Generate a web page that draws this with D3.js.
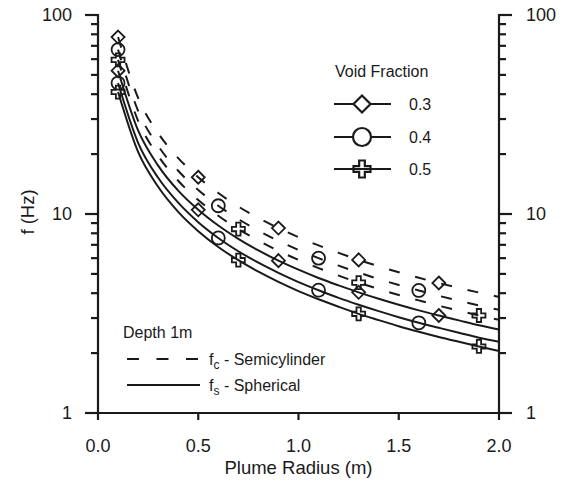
<!DOCTYPE html>
<html><head><meta charset="utf-8">
<script src="https://cdn.jsdelivr.net/npm/d3@7"></script>
<style>
body{margin:0;background:#fff}
text{font-family:"Liberation Sans",Arial,Helvetica,sans-serif;fill:#1a1a1a}
</style>
</head><body>
<svg id="chart" width="565" height="483"></svg>
<script>
// ---- data ----
const radius = [0.1,0.2,0.3,0.4,0.5,0.6,0.7,0.8,0.9,1.0,1.1,1.2,1.3,1.4,1.5,1.6,1.7,1.8,1.9,2.0];
// f_c - Semicylinder (dashed)
const fcVoid03 = [77.5,38.3,25.5,19.1,15.3,12.75,10.9,9.56,8.5,7.65,6.95,6.38,5.88,5.46,5.1,4.78,4.5,4.25,4.03,3.83];
const fcVoid04 = [67.0,33.0,22.0,16.5,13.2,11.0,9.43,8.25,7.33,6.6,6.0,5.5,5.08,4.71,4.4,4.13,3.88,3.67,3.47,3.3];
const fcVoid05 = [59.5,29.4,19.6,14.7,11.76,9.8,8.4,7.35,6.53,5.88,5.35,4.9,4.52,4.2,3.92,3.68,3.46,3.27,3.09,2.94];
// f_s - Spherical (solid)
const fsVoid03 = [52.5,26.3,17.5,13.1,10.5,8.75,7.5,6.56,5.83,5.25,4.77,4.38,4.04,3.75,3.5,3.28,3.09,2.92,2.76,2.63];
const fsVoid04 = [45.5,22.8,15.2,11.4,9.1,7.58,6.5,5.69,5.06,4.55,4.14,3.79,3.5,3.25,3.03,2.84,2.68,2.53,2.39,2.28];
const fsVoid05 = [41.0,20.5,13.7,10.25,8.2,6.83,5.86,5.13,4.56,4.1,3.73,3.42,3.15,2.93,2.73,2.56,2.41,2.28,2.16,2.05];
// marker locations (plume radius) for each void fraction
const markersVoid03 = [0.1,0.5,0.9,1.3,1.7];
const markersVoid04 = [0.1,0.6,1.1,1.6];
const markersVoid05 = [0.1,0.7,1.3,1.9];
const voidFractions = ["0.3","0.4","0.5"];
const xTicks = [0,0.5,1.0,1.5,2.0];
const yMajorTicks = [1,10,100];
const yMinorTicks = [2,3,4,5,6,7,8,9,20,30,40,50,60,70,80,90];

const ink = "#1a1a1a";
const svg = d3.select("#chart");
const x = d3.scaleLinear().domain([0,2]).range([98,499]);
const y = d3.scaleLog().domain([1,100]).range([413,15]);

const series = [
  {vals:fcVoid03, dash:true, marker:"diamond", mx:markersVoid03},
  {vals:fcVoid04, dash:true, marker:"circle", mx:markersVoid04},
  {vals:fcVoid05, dash:true, marker:"plus", mx:markersVoid05},
  {vals:fsVoid03, dash:false, marker:"diamond", mx:markersVoid03},
  {vals:fsVoid04, dash:false, marker:"circle", mx:markersVoid04},
  {vals:fsVoid05, dash:false, marker:"plus", mx:markersVoid05}
];

function markerPath(type, r){
  if(type==="diamond") return `M0,${-r}L${r},0L0,${r}L${-r},0Z`;
  if(type==="circle") return d3.symbol(d3.symbolCircle, Math.PI*r*r)();
  const a = r/3; // plus outline
  return `M${-a},${-r}H${a}V${-a}H${r}V${a}H${a}V${r}H${-a}V${a}H${-r}V${-a}H${-a}Z`;
}

const line = d3.line().x(d=>x(d[0])).y(d=>y(d[1])).curve(d3.curveMonotoneX);
const plot = svg.append("g");
series.forEach(s=>{
  const pts = radius.map((r,i)=>[r,s.vals[i]]);
  plot.append("path").attr("d",line(pts)).attr("fill","none")
    .attr("stroke",ink).attr("stroke-width",2)
    .attr("stroke-dasharray", s.dash ? "11,16" : null);
});
series.forEach(s=>{
  s.mx.forEach(r=>{
    const i = radius.findIndex(v=>Math.abs(v-r)<1e-9);
    plot.append("path").attr("d",markerPath(s.marker,6.5))
      .attr("transform",`translate(${x(r)},${y(s.vals[i])})`)
      .attr("fill","none").attr("stroke",ink).attr("stroke-width",1.8);
  });
});

// ---- axes ----
const axG = svg.append("g").attr("stroke",ink);
// left & right axis lines
[x(0), x(2)].forEach((xx,side)=>{
  axG.append("line").attr("x1",xx).attr("x2",xx).attr("y1",y(100)-1).attr("y2",y(1)+1).attr("stroke-width",2.2);
  const dir = side===0 ? -1 : 1;
  yMajorTicks.forEach(t=>{
    axG.append("line").attr("x1",xx).attr("x2",xx+dir*13).attr("y1",y(t)).attr("y2",y(t)).attr("stroke-width",2.2);
  });
  yMinorTicks.forEach(t=>{
    axG.append("line").attr("x1",xx).attr("x2",xx+dir*7).attr("y1",y(t)).attr("y2",y(t)).attr("stroke-width",2.2);
  });
});
// bottom axis
axG.append("line").attr("x1",x(0)-1).attr("x2",x(2)+1).attr("y1",y(1)).attr("y2",y(1)).attr("stroke-width",2.2);
xTicks.forEach(t=>{
  axG.append("line").attr("x1",x(t)).attr("x2",x(t)).attr("y1",y(1)).attr("y2",y(1)+7).attr("stroke-width",2.2);
});

const fmtX = d3.format(".1f");
const tg = svg.append("g").attr("font-size",18);
xTicks.forEach(t=>{
  tg.append("text").attr("x",x(t)).attr("y",452).attr("text-anchor","middle").text(fmtX(t));
});
yMajorTicks.forEach(t=>{
  tg.append("text").attr("x",72).attr("y",y(t)).attr("dy","0.35em").attr("text-anchor","end").text(t);
  tg.append("text").attr("x",526).attr("y",y(t)).attr("dy","0.35em").attr("text-anchor","start").text(t);
});
svg.append("text").attr("font-size",18.5).attr("text-anchor","middle")
  .attr("x",x(1)).attr("y",474).text("Plume Radius (m)");
svg.append("text").attr("font-size",18.5).attr("text-anchor","middle")
  .attr("transform","translate(34,212) rotate(-90)").text("f (Hz)");

// ---- legend: void fraction ----
const lg = svg.append("g");
lg.append("text").attr("x",335).attr("y",77).attr("font-size",16).text("Void Fraction");
const legendMarkers = ["diamond","circle","plus"];
const legendY = [104,137,169];
voidFractions.forEach((v,i)=>{
  lg.append("line").attr("x1",334).attr("x2",391).attr("y1",legendY[i]).attr("y2",legendY[i])
    .attr("stroke",ink).attr("stroke-width",2);
  lg.append("path").attr("d",markerPath(legendMarkers[i], legendMarkers[i]==="circle"?9:8.5))
    .attr("transform",`translate(362,${legendY[i]})`)
    .attr("fill", legendMarkers[i]==="plus" ? "none" : "#fff")
    .attr("stroke",ink).attr("stroke-width",2.2);
  lg.append("text").attr("x",409).attr("y",legendY[i]).attr("dy","0.35em").attr("font-size",16).text(v);
});

// ---- legend: depth ----
const dg = svg.append("g");
dg.append("text").attr("x",123).attr("y",338).attr("font-size",16).text("Depth 1m");
dg.append("line").attr("x1",127).attr("x2",198).attr("y1",359).attr("y2",359)
  .attr("stroke",ink).attr("stroke-width",2.2).attr("stroke-dasharray","12,17.5");
dg.append("line").attr("x1",127).attr("x2",200).attr("y1",385).attr("y2",385)
  .attr("stroke",ink).attr("stroke-width",2.2);
const t1 = dg.append("text").attr("x",209).attr("y",365).attr("font-size",16);
t1.append("tspan").text("f");
t1.append("tspan").attr("font-size",12).attr("dy",4).text("c");
t1.append("tspan").attr("dy",-4).text(" - Semicylinder");
const t2 = dg.append("text").attr("x",209).attr("y",391).attr("font-size",16);
t2.append("tspan").text("f");
t2.append("tspan").attr("font-size",12).attr("dy",4).text("s");
t2.append("tspan").attr("dy",-4).text(" - Spherical");
</script>
</body></html>
